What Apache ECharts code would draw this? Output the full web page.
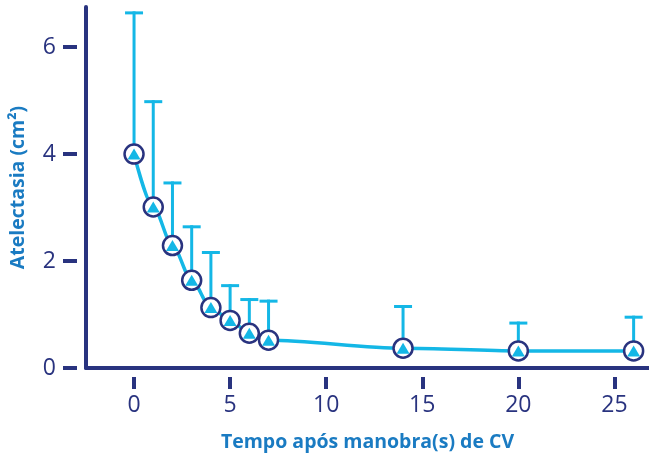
<!DOCTYPE html>
<html>
<head>
<meta charset="utf-8">
<script src="https://cdn.jsdelivr.net/npm/echarts@6/dist/echarts.min.js"></script>
<style>html,body{margin:0;padding:0;background:#fff}#c{width:649px;height:457px}</style>
</head>
<body>
<div id="c"></div>
<script>
var times = [0, 1, 2, 3, 4, 5, 6, 7, 14, 20, 26];
var meanValues = [4.0, 3.01, 2.29, 1.64, 1.13, 0.89, 0.65, 0.52, 0.37, 0.32, 0.32];
var upperValues = [6.64, 4.98, 3.46, 2.64, 2.16, 1.54, 1.28, 1.25, 1.15, 0.84, 0.95];
var xTicks = [0, 5, 10, 15, 20, 25];
var yTicks = [0, 2, 4, 6];
var xTitle = 'Tempo após manobra(s) de CV';
var yTitle = 'Atelectasia (cm²)';

var NAVY = '#29337f', CYAN = '#14b7e6', BLUE = '#1a7bc2';
var points = times.map(function (t, i) { return [t, meanValues[i]]; });
var errs = times.map(function (t, i) { return [t, meanValues[i], upperValues[i]]; });

var chart = echarts.init(document.getElementById('c'), null, {renderer: 'canvas'});
var xMin = -2.5, xMax = 26.8, yMin = 0, yMax = 6.75;
var labelFont = {color: NAVY, fontSize: 23, fontFamily: 'Open Sans', fontWeight: 'normal'};
chart.setOption({
  animation: false,
  grid: {left: 85, right: 0, top: 7, bottom: 88},
  xAxis: [
    {type: 'value', min: xMin, max: xMax, position: 'bottom',
     axisLine: {show: true, onZero: false, lineStyle: {color: NAVY, width: 4}},
     axisTick: {show: false}, axisLabel: {show: false}, splitLine: {show: false},
     name: xTitle, nameLocation: 'middle', nameGap: 64,
     nameTextStyle: {color: BLUE, fontSize: 19.5, fontWeight: 'bold', fontFamily: 'Open Sans'}},
    {type: 'value', min: xMin, max: xMax, position: 'bottom', offset: 9,
     axisLine: {show: false, onZero: false},
     axisTick: {show: true, length: 12, customValues: xTicks, lineStyle: {color: NAVY, width: 4}},
     axisLabel: Object.assign({show: true, margin: 17, customValues: xTicks}, labelFont),
     splitLine: {show: false}}
  ],
  yAxis: [
    {type: 'value', min: yMin, max: yMax, position: 'left',
     axisLine: {show: true, onZero: false, lineStyle: {color: NAVY, width: 4}},
     axisTick: {show: false}, axisLabel: {show: false}, splitLine: {show: false},
     name: yTitle, nameLocation: 'middle', nameGap: 58,
     nameTextStyle: {color: BLUE, fontSize: 19.5, fontWeight: 'bold', fontFamily: 'Open Sans'}},
    {type: 'value', min: yMin, max: yMax, position: 'left', offset: 9,
     axisLine: {show: false, onZero: false},
     axisTick: {show: true, length: 14, customValues: yTicks, lineStyle: {color: NAVY, width: 4}},
     axisLabel: Object.assign({show: true, margin: 21, customValues: yTicks}, labelFont),
     splitLine: {show: false}}
  ],
  series: [
    {type: 'custom', xAxisIndex: 0, yAxisIndex: 0, data: errs, z: 1,
     renderItem: function (params, api) {
       var p0 = api.coord([api.value(0), api.value(1)]);
       var p1 = api.coord([api.value(0), api.value(2)]);
       var h = 9;
       return {type: 'group', children: [
         {type: 'line', shape: {x1: p0[0], y1: p0[1], x2: p1[0], y2: p1[1] - 1.5}, style: {stroke: CYAN, lineWidth: 3}},
         {type: 'line', shape: {x1: p1[0] - h, y1: p1[1], x2: p1[0] + h, y2: p1[1]}, style: {stroke: CYAN, lineWidth: 3}}
       ]};
     }},
    {type: 'line', xAxisIndex: 0, yAxisIndex: 0, data: points, smooth: 0.3, smoothMonotone: 'x',
     showSymbol: false, lineStyle: {color: CYAN, width: 3.5}, z: 2},
    {type: 'scatter', xAxisIndex: 0, yAxisIndex: 0, data: points, symbol: 'circle', symbolSize: 19,
     itemStyle: {color: '#ffffff', borderColor: NAVY, borderWidth: 2.5, opacity: 1}, z: 3},
    {type: 'scatter', xAxisIndex: 0, yAxisIndex: 0, data: points, symbol: 'triangle', symbolSize: [13, 11],
     itemStyle: {color: CYAN, opacity: 1}, z: 4}
  ]
});
</script>
</body>
</html>
